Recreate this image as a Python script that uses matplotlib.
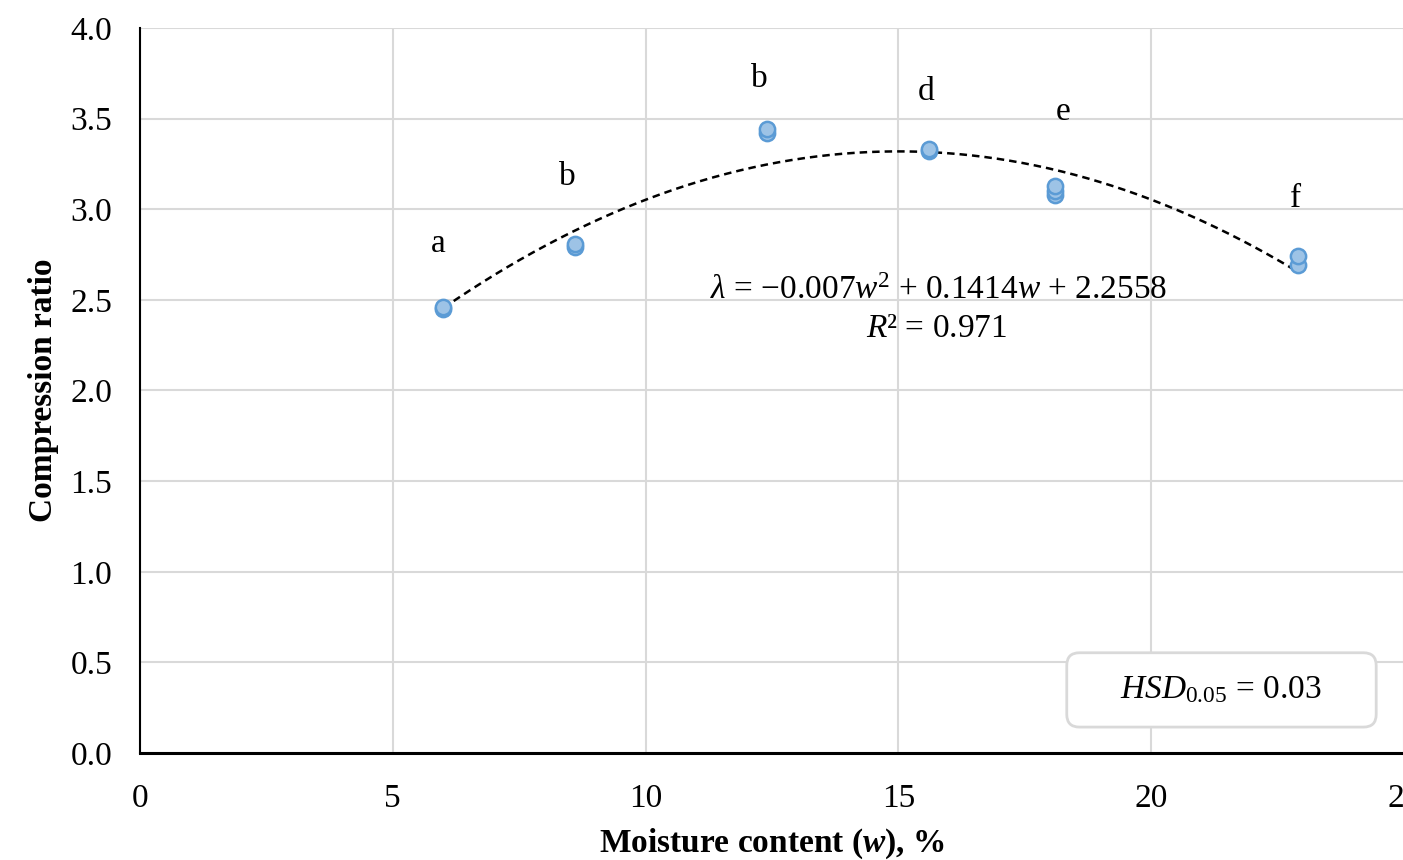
import numpy as np
import matplotlib
matplotlib.use("Agg")
import matplotlib.pyplot as plt
from matplotlib.patches import FancyBboxPatch

plt.rcParams['font.family'] = ['Liberation Serif', 'DejaVu Serif']
plt.rcParams['mathtext.fontset'] = 'custom'
plt.rcParams['mathtext.rm'] = 'Liberation Serif'
plt.rcParams['mathtext.it'] = 'Liberation Serif:italic'
plt.rcParams['mathtext.bf'] = 'Liberation Serif:bold'
plt.rcParams['mathtext.bfit'] = 'Liberation Serif:bold:italic'

# moisture content (%) and compression ratio, replicate measurements
moisture = [6.0, 6.0, 8.6, 8.6, 12.4, 12.4, 15.6, 15.6, 18.1, 18.1, 18.1, 22.9, 22.9]
ratio = [2.45, 2.46, 2.79, 2.81, 3.42, 3.44, 3.32, 3.33, 3.08, 3.10, 3.13, 2.69, 2.74]

# significance letters above each group
letter_x = [5.9, 8.45, 12.25, 15.55, 18.25, 22.85]
letter_y = [2.81, 3.18, 3.72, 3.65, 3.54, 3.06]
letters = ['a', 'b', 'b', 'd', 'e', 'f']

FS = 24

fig = plt.figure(figsize=(14.03, 8.60), dpi=100)
ax = fig.add_axes([140 / 1403, 107 / 860, 1264 / 1403, 725 / 860])

ax.set_xlim(0, 25)
ax.set_ylim(0, 4.0)
ax.set_xticks(np.arange(0, 26, 5))
ax.set_yticks(np.arange(0, 4.01, 0.5))
ax.set_yticklabels([f"{v:.1f}" for v in np.arange(0, 4.01, 0.5)])
ax.grid(True, color='#d9d9d9', linewidth=1.5)
ax.set_axisbelow(True)
for s in ['top', 'right']:
    ax.spines[s].set_visible(False)
ax.spines['left'].set_linewidth(1.5)
ax.spines['bottom'].set_linewidth(2.2)
ax.tick_params(axis='y', length=0, labelsize=FS, pad=20)
ax.tick_params(axis='x', length=0, labelsize=FS, pad=22)

# quadratic trend line fitted to the points
coef = np.polyfit(moisture, ratio, 2)
xs = np.linspace(min(moisture), max(moisture), 200)
ax.plot(xs, np.polyval(coef, xs), linestyle=(0, (3, 2)), color='black', linewidth=1.8, zorder=2)

ax.plot(moisture, ratio, 'o', markersize=11, markerfacecolor='#9dc3e6',
        markeredgecolor='#5b9bd5', markeredgewidth=1.8, zorder=3)

for lx, ly, t in zip(letter_x, letter_y, letters):
    ax.text(lx, ly, t, fontsize=FS, ha='center', va='center')

ax.text(15.8, 2.55, r'$\lambda$ = $-$0.007$w$$^2$ + 0.1414$w$ + 2.2558',
        fontsize=FS, ha='center', va='center')
ax.text(15.75, 2.34, r'$R$² = 0.971', fontsize=FS, ha='center', va='center')

# HSD box
box = FancyBboxPatch((18.33, 0.143), 6.12, 0.41,
                     boxstyle='round,pad=0,rounding_size=0.25', mutation_aspect=0.28,
                     facecolor='white', edgecolor='#d9d9d9', linewidth=2, zorder=4)
ax.add_patch(box)
ax.text(21.38, 0.35, r'$HSD_{\mathrm{0.05}}$ = 0.03', fontsize=FS, ha='center', va='center', zorder=5)

ax.set_xlabel(r'Moisture content ($\mathbfit{w}$), %', fontsize=FS, fontweight='bold', labelpad=9)
ax.set_ylabel('Compression ratio', fontsize=FS, fontweight='bold', labelpad=8)

fig.savefig('out.png', dpi=100)
